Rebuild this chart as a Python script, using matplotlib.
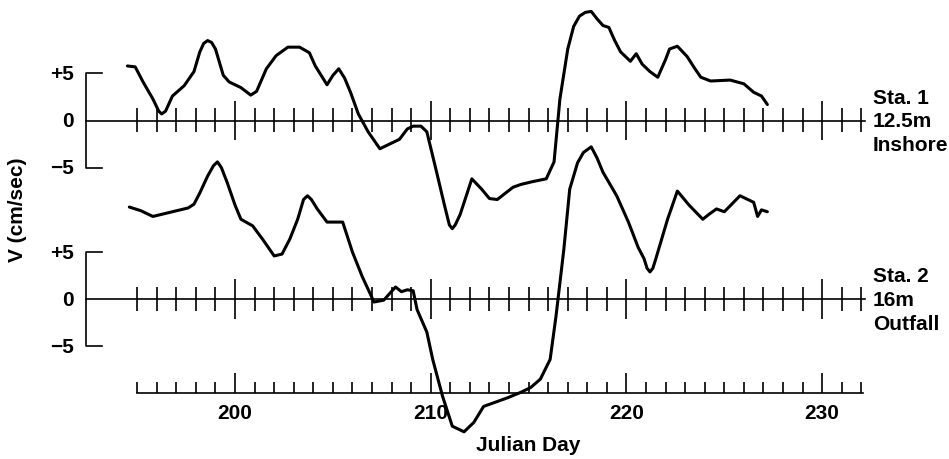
import matplotlib.pyplot as plt
import numpy as np

# Station 1 (12.5 m, inshore) - julian day vs V (cm/sec)
sta1_day = [194.5, 194.9, 195.3, 195.8, 196.1, 196.25, 196.45, 196.8, 197.4, 197.9, 198.2,
            198.4, 198.6, 198.8, 199.0, 199.4, 199.7, 200.3, 200.8, 201.1, 201.6, 202.1, 202.7,
            203.3, 203.8, 204.1, 204.7, 205.0, 205.3, 205.6, 205.9, 206.3, 206.8,
            207.4, 207.9, 208.4, 208.8, 209.1, 209.5, 209.8, 210.3, 210.7, 210.95, 211.1,
            211.25, 211.5, 212.1, 212.6, 213.0, 213.4, 214.2, 214.6, 215.2, 215.9, 216.3,
            216.6, 217.0, 217.3, 217.6, 217.9, 218.2, 218.5, 218.8, 219.1, 219.4,
            219.7, 220.2, 220.5, 220.8, 221.2, 221.6, 222.0, 222.2, 222.6, 223.1,
            223.5, 223.8, 224.3, 225.3, 226.0, 226.5, 226.9, 227.2]
sta1_v = [5.8, 5.7, 4.1, 2.3, 1.0, 0.7, 1.0, 2.6, 3.7, 5.2, 7.3,
          8.2, 8.5, 8.3, 7.6, 4.8, 4.1, 3.5, 2.7, 3.1, 5.5, 6.9, 7.8,
          7.8, 7.2, 5.8, 3.8, 4.8, 5.5, 4.5, 3.0, 0.7, -1.2,
          -3.0, -2.5, -2.0, -0.9, -0.6, -0.6, -1.2, -5.5, -9.0, -11.1, -11.5,
          -11.1, -10.0, -6.2, -7.3, -8.3, -8.4, -7.1, -6.8, -6.5, -6.2, -4.4,
          2.3, 7.6, 10.0, 11.1, 11.5, 11.6, 10.8, 10.1, 9.9, 8.5,
          7.3, 6.3, 7.1, 6.0, 5.2, 4.6, 6.5, 7.6, 7.9, 6.8,
          5.5, 4.6, 4.2, 4.3, 3.9, 3.0, 2.6, 1.7]

# Station 2 (16 m, outfall)
sta2_day = [194.6, 195.2, 195.8, 196.4, 197.0, 197.6, 197.9, 198.2, 198.6, 198.9, 199.1,
            199.3, 199.6, 200.0, 200.3, 200.9, 201.4, 202.0, 202.4, 202.8, 203.2, 203.5, 203.7,
            203.9, 204.2, 204.7, 205.5, 206.0, 206.5, 207.1, 207.6, 208.2, 208.5, 208.8,
            209.1, 209.3, 209.8, 210.1, 210.6, 211.1, 211.7, 212.2, 212.7, 213.1,
            213.9, 214.6, 215.1, 215.6, 216.1, 216.4, 216.8, 217.1, 217.5, 217.8,
            218.2, 218.5, 218.8, 219.5, 220.1, 220.6, 220.9, 221.05, 221.2, 221.35, 221.5, 222.1,
            222.6, 223.2, 223.9, 224.2, 224.6, 225.0, 225.8, 226.5, 226.7, 226.9,
            227.2]
sta2_v = [9.8, 9.4, 8.8, 9.1, 9.4, 9.7, 10.1, 11.3, 13.1, 14.2, 14.6,
          14.0, 12.4, 10.0, 8.5, 7.8, 6.4, 4.6, 4.8, 6.4, 8.5, 10.6, 11.0,
          10.6, 9.6, 8.2, 8.2, 5.0, 2.4, -0.3, -0.1, 1.3, 0.8, 1.0,
          0.9, -1.1, -3.5, -6.4, -10.3, -13.5, -14.1, -13.1, -11.4, -11.1,
          -10.5, -9.9, -9.4, -8.5, -6.4, -1.8, 5.3, 11.7, 14.5, 15.6,
          16.2, 15.0, 13.5, 11.0, 8.2, 5.5, 4.3, 3.3, 2.9, 3.3, 4.3, 8.5,
          11.5, 10.0, 8.5, 9.0, 9.6, 9.3, 11.0, 10.3, 8.8, 9.5,
          9.3]

tick_days = np.arange(195, 233)
label_days = [200, 210, 220, 230]
yticks = [5, 0, -5]
ytick_labels = ['+5', '0', '\u22125']
station_labels = [['Sta. 1', '12.5m', 'Inshore'], ['Sta. 2', '16m', 'Outfall']]

# vertical offsets of the two baselines and the bottom day axis
offsets = [19.0, 0.0]
axis_y = -10.0

plt.rcParams['font.family'] = ['Liberation Sans', 'DejaVu Sans']
plt.rcParams['font.weight'] = 'bold'
fs = 15

fig = plt.figure(figsize=(9.49, 4.6), dpi=100)
ax = fig.add_axes([0, 0, 1, 1])
ax.set_xlim(187.99, 236.48)
ax.set_ylim(-16.99, 31.92)
ax.axis('off')

lw_axis = 1.2
x_bracket = 192.39
for off, labels in zip(offsets, station_labels):
    # bracket on the left
    ax.plot([193.2, x_bracket, x_bracket, 193.2], [off + 5, off + 5, off - 5, off - 5],
            color='black', lw=lw_axis)
    for yt, lab in zip(yticks, ytick_labels):
        ax.text(191.75, off + yt, lab, ha='right', va='center', fontsize=fs)
    # baseline with day ticks
    ax.plot([x_bracket, 232.2], [off, off], color='black', lw=lw_axis)
    big = tick_days % 10 == 0
    ax.vlines(tick_days[~big], off - 1.25, off + 1.3, color='black', lw=lw_axis)
    ax.vlines(tick_days[big], off - 2.1, off + 2.1, color='black', lw=lw_axis)
    for i, lab in enumerate(labels):
        ax.text(232.6, off + 2.5 - 2.55 * i, lab, ha='left', va='center', fontsize=fs)

ax.plot(sta1_day, np.array(sta1_v) + offsets[0], color='black', lw=2.2,
        solid_joinstyle='round', solid_capstyle='round')
ax.plot(sta2_day, np.array(sta2_v) + offsets[1], color='black', lw=2.2,
        solid_joinstyle='round', solid_capstyle='round')

# bottom day axis
ax.plot([195, 232.1], [axis_y, axis_y], color='black', lw=lw_axis)
big = tick_days % 10 == 0
ax.vlines(tick_days[~big], axis_y, axis_y + 1.2, color='black', lw=lw_axis)
ax.vlines(tick_days[big], axis_y, axis_y + 2.2, color='black', lw=lw_axis)
for d in label_days:
    ax.text(d, axis_y - 2.0, str(d), ha='center', va='center', fontsize=fs)
ax.text(215, -15.5, 'Julian Day', ha='center', va='center', fontsize=fs)

ax.text(188.9, 9.6, 'V (cm/sec)', rotation=90, ha='center', va='center', fontsize=fs)

fig.savefig('out.png', dpi=100, facecolor='white')
